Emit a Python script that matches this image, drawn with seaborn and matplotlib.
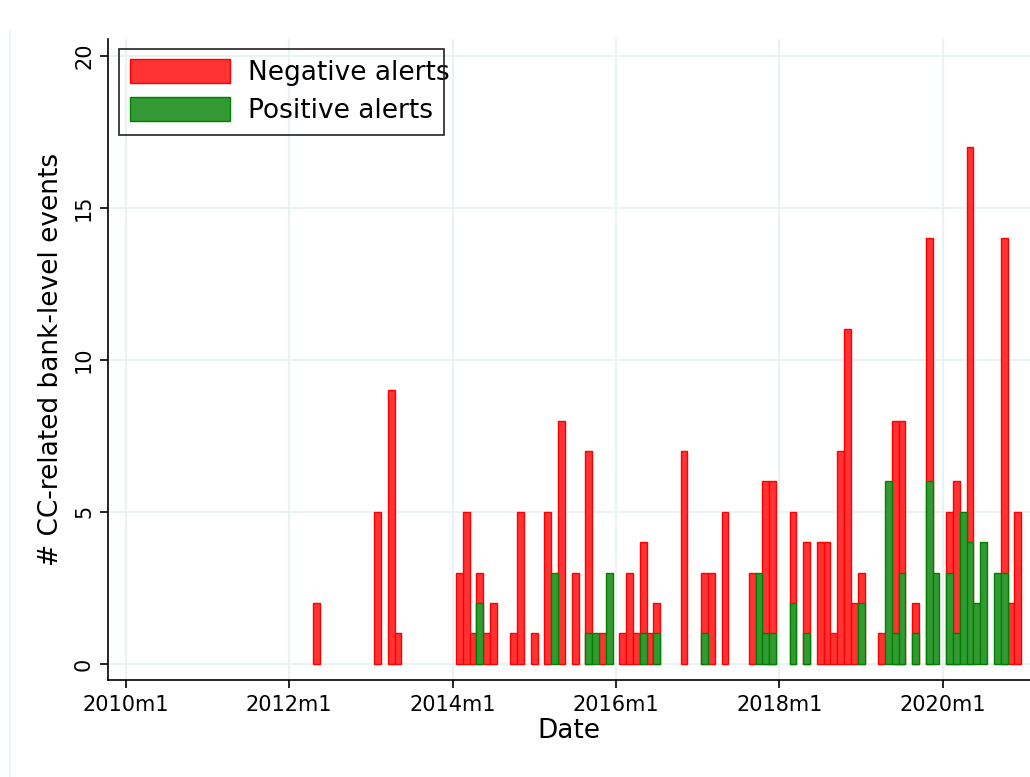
import matplotlib
matplotlib.use('Agg')
import matplotlib.pyplot as plt
from matplotlib.patches import Patch, Rectangle
from matplotlib.lines import Line2D
import pandas as pd
import seaborn as sns

# ── Data (monthly counts) ────────────────────────────────────────────────
neg_months = ['2012m5', '2013m2', '2013m4', '2013m5', '2014m2', '2014m3',
              '2014m4', '2014m5', '2014m6', '2014m7', '2014m10', '2014m11',
              '2015m1', '2015m3', '2015m5', '2015m7', '2015m9', '2015m11',
              '2016m2', '2016m3', '2016m4', '2016m5', '2016m6', '2016m7',
              '2016m11', '2017m2', '2017m3', '2017m5', '2017m9', '2017m11',
              '2017m12', '2018m3', '2018m5', '2018m7', '2018m8', '2018m9',
              '2018m10', '2018m11', '2018m12', '2019m1', '2019m4', '2019m6',
              '2019m7', '2019m9', '2019m11', '2020m2', '2020m3', '2020m5',
              '2020m10', '2020m11', '2020m12']
neg_counts = [2, 5, 9, 1, 3, 5,
              1, 3, 1, 2, 1, 5,
              1, 5, 8, 3, 7, 1,
              1, 3, 1, 4, 1, 2,
              7, 3, 3, 5, 3, 6,
              6, 5, 4, 4, 4, 1,
              7, 11, 2, 3, 1, 8,
              8, 2, 14, 5, 6, 17,
              14, 2, 5]

pos_months = ['2014m5', '2015m4', '2015m9', '2015m10', '2015m12', '2016m5',
              '2016m7', '2017m2', '2017m10', '2017m11', '2017m12', '2018m3',
              '2018m5', '2019m1', '2019m5', '2019m6', '2019m7', '2019m9',
              '2019m11', '2019m12', '2020m2', '2020m3', '2020m4', '2020m5',
              '2020m6', '2020m7', '2020m9', '2020m10']
pos_counts = [2, 3, 1, 1, 3, 1,
              1, 1, 3, 1, 1, 2,
              1, 2, 6, 1, 3, 1,
              6, 3, 3, 1, 5, 4,
              2, 4, 3, 3]

tick_labels = ['2010m1', '2012m1', '2014m1', '2016m1', '2018m1', '2020m1']
y_ticks = [0, 5, 10, 15, 20]


def month_index(s):
    y, m = s.split('m')
    return (int(y) - 2010) * 12 + int(m) - 1


neg = pd.DataFrame({'t': [month_index(s) for s in neg_months], 'n': neg_counts})
pos = pd.DataFrame({'t': [month_index(s) for s in pos_months], 'n': pos_counts})

RED_FILL, RED_EDGE = '#FF3333', '#FF0000'
GRN_FILL, GRN_EDGE = '#339933', '#008000'
GRID = '#EAF2F3'
W, H = 1030, 777

sns.set_theme(style='white')
plt.rcParams['font.family'] = ['DejaVu Sans']

fig = plt.figure(figsize=(W / 100, H / 100), dpi=100)
ax = fig.add_axes([108 / W, 97 / H, 922 / W, 641 / H])

# ── Bars: positive alerts overlaid on negative alerts ────────────────────
sns.barplot(data=neg, x='t', y='n', native_scale=True, width=1,
            color=RED_FILL, saturation=1, edgecolor=RED_EDGE, linewidth=1,
            errorbar=None, ax=ax)
sns.barplot(data=pos, x='t', y='n', native_scale=True, width=1,
            color=GRN_FILL, saturation=1, edgecolor=GRN_EDGE, linewidth=1,
            errorbar=None, ax=ax)

ax.set_xlim(-2.6, 132.8)
ax.set_ylim(-0.53, 20.55)
ax.set_xticks([month_index(s) for s in tick_labels], tick_labels)
ax.set_yticks(y_ticks, [str(v) for v in y_ticks])
for lbl in ax.get_yticklabels():
    lbl.set_rotation(90)
    lbl.set_va('center')

ax.grid(True, color=GRID, lw=1.6)
ax.set_axisbelow(True)
ax.tick_params(axis='both', bottom=True, left=True, direction='out',
               length=6, width=1.2, color='black', labelsize=15,
               labelcolor='black')
ax.tick_params(axis='x', pad=5)
ax.tick_params(axis='y', pad=4)
ax.spines[['top', 'right']].set_visible(False)
for s in ('left', 'bottom'):
    ax.spines[s].set_color('black')
    ax.spines[s].set_linewidth(1.2)

ax.set_xlabel('Date', fontsize=19, labelpad=2, color='black')
ax.set_ylabel('# CC-related bank-level events', fontsize=19, labelpad=7,
              color='black')

handles = [Patch(facecolor=RED_FILL, edgecolor=RED_EDGE, lw=1),
           Patch(facecolor=GRN_FILL, edgecolor=GRN_EDGE, lw=1)]
leg = ax.legend(handles, ['Negative alerts', 'Positive alerts'],
                loc='upper left', bbox_to_anchor=(0.012, 0.986),
                borderaxespad=0, fontsize=19, frameon=False,
                handlelength=3.8, handleheight=1.0,
                handletextpad=0.65, labelspacing=0.42, borderpad=0.42)
for t in leg.get_texts():
    t.set_color('black')

# legend frame is a touch narrower than its text, as in the original
fig.add_artist(Rectangle((118.5 / W, 1 - 134.5 / H), 325 / W, 85.5 / H,
                         transform=fig.transFigure, fill=False,
                         edgecolor='#222222', lw=1.2, zorder=10))

# faint outer-region border on the left
fig.add_artist(Line2D([10 / W, 10 / W], [0, 1 - 30 / H],
                      color=GRID, lw=1.2))

fig.savefig('out.png', dpi=100, facecolor='white')
plt.close(fig)
